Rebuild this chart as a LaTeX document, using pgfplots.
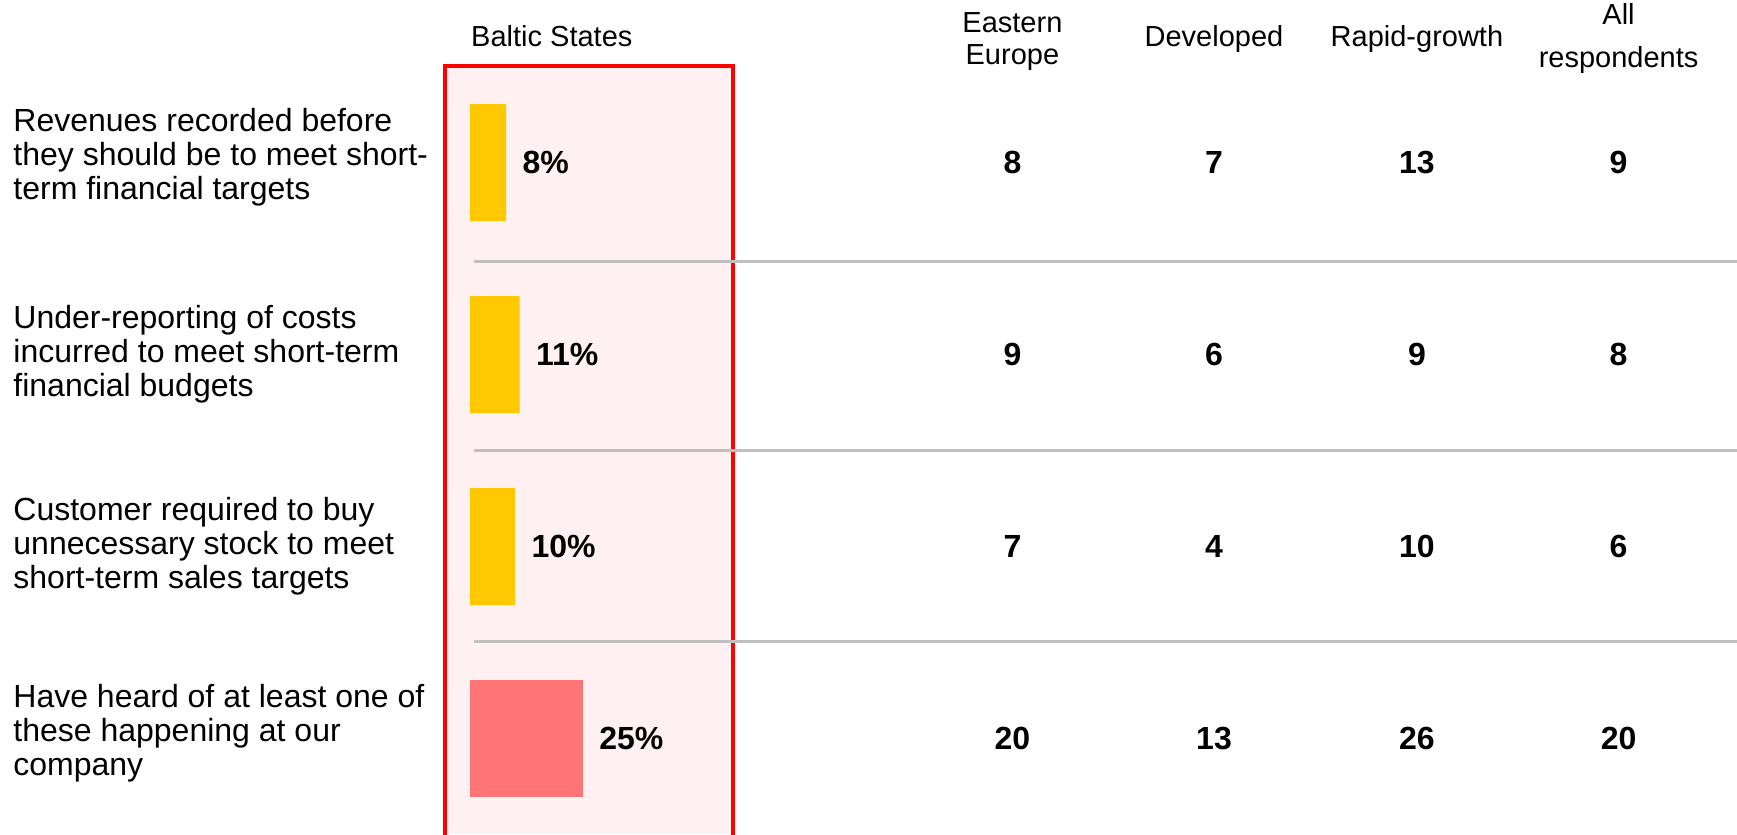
\documentclass[border=0pt]{standalone}
\usepackage{pgfplots}
\pgfplotsset{compat=1.18}
\usepackage{pgfplotstable}
\usepackage{fontspec}
\setmainfont{Liberation Sans}

\definecolor{barYellow}{HTML}{FFC800}
\definecolor{barPink}{HTML}{FF7575}
\definecolor{boxFill}{HTML}{FFF1F1}
\definecolor{sepGray}{HTML}{C0C0C0}

% row, Baltic States (%), Eastern Europe, Developed, Rapid-growth, All respondents
\pgfplotstableread{
row baltic ee dev rg all
1 8 8 7 13 9
2 11 9 6 9 8
3 10 7 4 10 6
4 25 20 13 26 20
}\results

\begin{document}
\begin{tikzpicture}
\begin{axis}[
    width=868.5pt, height=417pt,
    scale only axis,
    hide axis,
    xmin=-103.98, xmax=280.31,
    ymin=0.1536, ymax=4.497,
    y dir=reverse,
    clip=false,
    /pgf/number format/assume math mode=true,
    every node near coord/.append style={font=\fontsize{16}{17}\selectfont\bfseries, text=black},
    colvals/.style={draw=none, mark=none, nodes near coords, point meta=explicit,
        every node near coord/.append style={anchor=center, inner sep=0pt}},
    barlbl/.style={xbar, bar width=58.5pt, bar shift=0pt, draw=none,
        point meta=x, nodes near coords={\pgfmathprintnumber{\pgfplotspointmeta}\%},
        every node near coord/.append style={anchor=west, inner sep=0pt, xshift=8pt}},
]
% highlighted Baltic States column
\addplot[fill=boxFill, draw=none] coordinates {(-5.53,0.4974) (58.19,0.4974) (58.19,4.497) (-5.53,4.497)} -- cycle;
\addplot[red, line width=1.6pt] coordinates {(-5.53,4.52) (-5.53,0.4974) (58.19,0.4974) (58.19,4.52)};

% separators
\addplot[sepGray, line width=1.5pt] coordinates {(0.9,1.515) (280.31,1.515)};
\addplot[sepGray, line width=1.5pt] coordinates {(0.9,2.5) (280.31,2.5)};
\addplot[sepGray, line width=1.5pt] coordinates {(0.9,3.495) (280.31,3.495)};

% Baltic States bars
\addplot[barlbl, fill=barYellow] table[x=baltic, y=row, skip coords between index={3}{4}] {\results};
\addplot[barlbl, fill=barPink] table[x=baltic, y=row, skip coords between index={0}{3}] {\results};

% other columns
\addplot[colvals] table[x expr=120.0, y=row, meta=ee] {\results};
\addplot[colvals] table[x expr=164.6, y=row, meta=dev] {\results};
\addplot[colvals] table[x expr=209.5, y=row, meta=rg] {\results};
\addplot[colvals] table[x expr=254.1, y=row, meta=all] {\results};

% headers
\begin{scope}[every node/.style={font=\fontsize{14.5}{16}\selectfont, align=center, inner sep=0pt}]
\node at (axis cs:18.1,0.344) {Baltic States};
\node at (axis cs:120.0,0.368) {Eastern\\Europe};
\node at (axis cs:164.6,0.356) {Developed};
\node at (axis cs:209.5,0.356) {Rapid-growth};
\node[font=\fontsize{14.5}{21.5}\selectfont] at (axis cs:254.1,0.352) {All\\respondents};
\end{scope}

% row labels
\begin{scope}[every node/.style={font=\fontsize{16}{17}\selectfont, align=left, anchor=west, inner sep=0pt}]
\node at (axis cs:-101.1,0.97) {Revenues recorded before\\they should be to meet short-\\term financial targets};
\node at (axis cs:-101.1,2) {Under-reporting of costs\\incurred to meet short-term\\financial budgets};
\node at (axis cs:-101.1,3) {Customer required to buy\\unnecessary stock to meet\\short-term sales targets};
\node at (axis cs:-101.1,3.97) {Have heard of at least one of\\these happening at our\\company};
\end{scope}
\end{axis}
\pgfresetboundingbox
\path[use as bounding box] (current axis.south west) rectangle (current axis.north east);
\end{tikzpicture}
\end{document}
